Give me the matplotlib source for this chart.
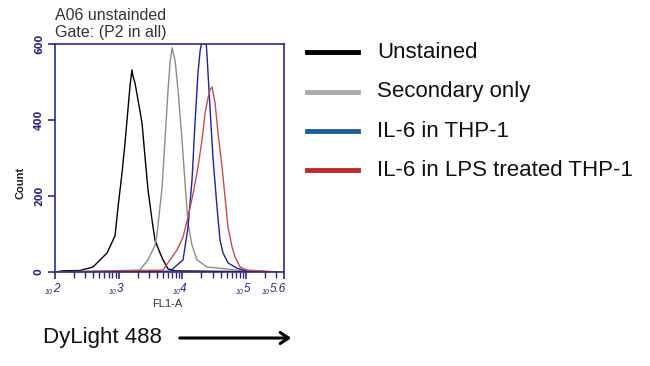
import numpy as np
import matplotlib
matplotlib.use("Agg")
import matplotlib.pyplot as plt
from matplotlib.ticker import FixedLocator, NullFormatter
from matplotlib.transforms import ScaledTranslation

# ---- data (log10 of FL1-A intensity, counts) ----
unstained_log = [2.0, 2.126, 2.393, 2.597, 2.818, 2.943, 2.991, 3.053, 3.101, 3.148, 3.179,
                 3.211, 3.226, 3.258, 3.305, 3.368, 3.415, 3.462, 3.525, 3.572, 3.651,
                 3.698, 3.777, 3.887, 5.5]
unstained_cnt = [0, 3, 4, 13, 50, 95, 171, 260, 340, 430, 490,
                 532, 515, 497, 453, 392, 303, 216, 137, 84, 50,
                 32, 8, 3, 0]

secondary_log = [2.0, 3.336, 3.462, 3.572, 3.604, 3.682, 3.730, 3.777, 3.808, 3.840, 3.887,
                 3.934, 3.997, 4.044, 4.091, 4.154, 4.233, 4.390, 4.594, 4.783, 4.987, 5.5]
secondary_cnt = [0, 5, 32, 70, 100, 220, 350, 479, 550, 590, 558,
                 479, 347, 234, 129, 70, 32, 13, 10, 6, 3, 0]

thp1_log = [2.0, 3.808, 4.013, 4.091, 4.154, 4.201, 4.248, 4.280, 4.311, 4.374, 4.390,
            4.437, 4.484, 4.547, 4.594, 4.642, 4.720, 4.862, 4.987, 5.145, 5.5]
thp1_cnt = [0, 2, 32, 118, 242, 392, 524, 580, 610, 610, 570,
            430, 300, 170, 84, 50, 24, 10, 4, 2, 0]

lps_log = [2.0, 3.698, 3.808, 3.918, 4.013, 4.091, 4.170, 4.248, 4.311, 4.358, 4.406,
           4.437, 4.469, 4.516, 4.563, 4.626, 4.673, 4.720, 4.783, 4.830, 4.909, 5.019, 5.5]
lps_cnt = [0, 5, 32, 58, 92, 145, 205, 276, 347, 418, 458,
           480, 487, 445, 366, 276, 197, 118, 66, 40, 13, 5, 0]

series_names = ["Unstained", "Secondary only", "IL-6 in THP-1", "IL-6 in LPS treated THP-1"]
x_major_exp = [2, 3, 4, 5, 5.6]
x_major_labels = ["2", "3", "4", "5", "5.6"]
y_ticks = [0, 200, 400, 600]

NAVY = "#2b2b7a"
W, H = 650, 366
fig = plt.figure(figsize=(6.5, 3.66), dpi=100)
fig.patch.set_facecolor("white")

def px(x, y):
    return x / W, 1 - y / H

ax = fig.add_axes([55 / W, 1 - 272 / H, (284 - 55) / W, (272 - 44) / H])
ax.set_xscale("log")
ax.set_xlim(10 ** 2, 10 ** 5.6)
ax.set_ylim(0, 600)

plot_cols = ["black", "#8c8c8c", "#22229a", "#c0504d"]
data = [(unstained_log, unstained_cnt), (secondary_log, secondary_cnt),
        (thp1_log, thp1_cnt), (lps_log, lps_cnt)]
for (lx, cy), col in zip(data, plot_cols):
    ax.plot(10 ** np.array(lx), cy, color=col, lw=1.0, clip_on=True)

for s in ax.spines.values():
    s.set_color(NAVY)
    s.set_linewidth(1.2)

ax.xaxis.set_major_locator(FixedLocator([10 ** e for e in x_major_exp]))
ax.xaxis.set_major_formatter(NullFormatter())
minors = []
for d in range(2, 6):
    for k in range(2, 10):
        v = k * 10 ** d
        if v < 10 ** 5.6:
            minors.append(v)
ax.xaxis.set_minor_locator(FixedLocator(minors))
ax.xaxis.set_minor_formatter(NullFormatter())
ax.tick_params(axis="x", which="major", length=5, width=1.2, color=NAVY)
ax.tick_params(axis="x", which="minor", length=4, width=1.0, color=NAVY)

# custom tick labels: small "10" followed by a larger exponent
trans = ax.get_xaxis_transform()
ylab = (272 - 294) / 228
for e, lab in zip(x_major_exp, x_major_labels):
    dx_exp = -14 / 100 if lab == "5.6" else -2 / 100
    t_exp = trans + ScaledTranslation(dx_exp, 2 / 100, fig.dpi_scale_trans)
    ax.text(10 ** e, ylab, lab, transform=t_exp, ha="left", va="baseline",
            fontsize=8.5, color=NAVY, fontstyle="italic", family="Liberation Sans",
            clip_on=False)
    t_ten = trans + ScaledTranslation(dx_exp, 0, fig.dpi_scale_trans)
    ax.text(10 ** e, ylab, "10", transform=t_ten, ha="right", va="baseline",
            fontsize=5, color=NAVY, fontstyle="italic", family="Liberation Sans",
            clip_on=False)

ax.set_yticks(y_ticks)
ax.set_yticklabels([str(v) for v in y_ticks], rotation=90, va="center",
                   color=NAVY, fontsize=7, fontweight="bold")
ax.tick_params(axis="y", length=5, width=1.2, color=NAVY, pad=3)

fig.text(*px(20, 183), "Count", rotation=90, ha="center", va="center",
         fontsize=8, fontweight="bold", color="#222222", family="Liberation Sans")
fig.text(*px(167, 304), "FL1-A", ha="center", va="center",
         fontsize=8, color="#333333", family="Liberation Sans")

fig.text(*px(55, 16), "A06 unstainded", ha="left", va="center",
         fontsize=11.5, color="#333333", family="Liberation Sans")
fig.text(*px(55, 33), "Gate: (P2 in all)", ha="left", va="center",
         fontsize=11.5, color="#333333", family="Liberation Sans")

# legend
leg_cols = ["black", "#aaaaaa", "#1f5fa0", "#c0282a"]
leg_y = [52, 92, 131, 170]
for name, col, y in zip(series_names, leg_cols, leg_y):
    fig.add_artist(plt.Line2D([307 / W, 358 / W], [1 - y / H, 1 - y / H],
                              color=col, lw=3.5, transform=fig.transFigure))
    fig.text(*px(377, y), name, ha="left", va="center", fontsize=16,
             family="Liberation Sans", color="#111111")

fig.text(*px(43, 338), "DyLight 488", ha="left", va="center", fontsize=16,
         family="Liberation Sans", color="#111111")
fig.add_artist(matplotlib.patches.FancyArrowPatch(px(177, 338), px(294, 338),
               transform=fig.transFigure, arrowstyle="->,head_length=6,head_width=4",
               lw=2.2, color="black"))

fig.savefig("out.png", dpi=100)
